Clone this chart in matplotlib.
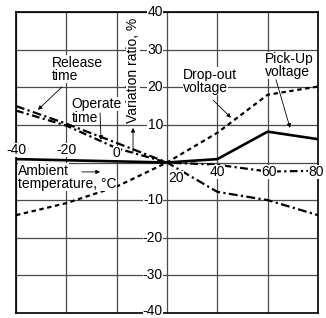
import matplotlib
matplotlib.use("Agg")
import matplotlib.pyplot as plt

# data
temps = [-40, -20, 0, 20, 40, 60, 80]
pickup_v = [0.9, 0.6, 0.3, 0.0, 0.9, 8.2, 6.2]
dropout_v = [-14.0, -10.8, -6.4, 0.0, 7.9, 18.0, 20.2]
release_t = [15.0, 10.3, 5.2, 0.0, -7.8, -10.0, -14.0]
operate_t = [13.8, 9.8, 3.8, 0.0, -0.6, -2.4, -2.2]

x_ticks = [-40, -20, 0, 20, 40, 60, 80]
y_ticks = [-40, -30, -20, -10, 0, 10, 20, 30, 40]
x_labels = ['-40', '-20', '0', '20', '40', '60', '80']
y_labels = ['-40', '-30', '-20', '-10', '', '10', '20', '30', '40']

plt.rcParams['font.family'] = ['Liberation Sans', 'DejaVu Sans']
plt.rcParams['font.size'] = 10

fig = plt.figure(figsize=(3.26, 3.18), dpi=100)
ax = fig.add_axes([16/326, 1-313/318, 302/326, 301/318])
ax.set_xlim(-40, 80)
ax.set_ylim(-40, 40)
ax.set_xticks(x_ticks)
ax.set_yticks(y_ticks)
ax.tick_params(length=0, labelbottom=False, labelleft=False)
ax.grid(True, color='#4a4a4a', lw=0.9)
for s in ax.spines.values():
    s.set_linewidth(1.2)
    s.set_color('black')

ax.plot(temps, pickup_v, color='black', lw=1.9, zorder=3)
l, = ax.plot(temps, dropout_v, color='black', lw=1.6, zorder=3)
l.set_dashes([2, 1.6])
l, = ax.plot(temps, release_t, color='black', lw=1.6, zorder=3)
l.set_dashes([4, 1.5, 1, 1.5])
l, = ax.plot(temps, operate_t, color='black', lw=1.6, zorder=3)
l.set_dashes([3.5, 1.5, 1, 1.5])

wb = dict(fc='white', ec='none', pad=0.15)

# tick labels placed like the original, on white patches
xl_pos = [(-40, 3.4), (-20, 3.4), (0, 2.6), (23.6, -4.1), (40, -2.5), (60.5, -2.5), (79.2, -2.5)]
for (xx, yy), s in zip(xl_pos, x_labels):
    ax.text(xx, yy, s, ha='center', va='center', bbox=wb, zorder=5, clip_on=False)
for yy, s in zip(y_ticks, y_labels):
    if s:
        if yy == -40:
            yy = -39.4
        ax.text(18.4, yy, s, ha='right', va='center', bbox=wb, zorder=5, clip_on=False)

def note(x, y, s, **kw):
    ax.text(x, y, s, ha='left', va='baseline', bbox=wb, zorder=5, **kw)

def arrow(x0, y0, x1, y1):
    ax.annotate('', xy=(x1, y1), xytext=(x0, y0), zorder=6,
                arrowprops=dict(arrowstyle='-|>', color='black', lw=0.6,
                                mutation_scale=6, shrinkA=0, shrinkB=0))

note(-25.7, 25.5, 'Release')
note(-25.7, 21.9, 'time')
arrow(-21.7, 20.1, -31.3, 14.0)

note(-17.8, 14.4, 'Operate')
note(-17.8, 10.8, 'time')
arrow(-6.6, 13.2, -6.2, 6.0)

ax.text(6.5, 24.6, 'Variation ratio, %', rotation=90, ha='center', va='center',
        bbox=wb, zorder=5)
arrow(6.5, 2.6, 6.5, 9.2)

note(26.3, 22.3, 'Drop-out')
note(26.3, 18.7, 'voltage')
arrow(38.3, 16.6, 45.4, 11.9)

note(58.9, 26.5, 'Pick-Up')
note(58.9, 22.9, 'voltage')
arrow(63.3, 22.0, 68.9, 9.2)

note(-39.2, -3.2, 'Ambient')
note(-39.2, -6.8, 'temperature, °C')
arrow(-13.8, -2.5, -6.6, -2.5)

fig.savefig('out.png', dpi=100)
